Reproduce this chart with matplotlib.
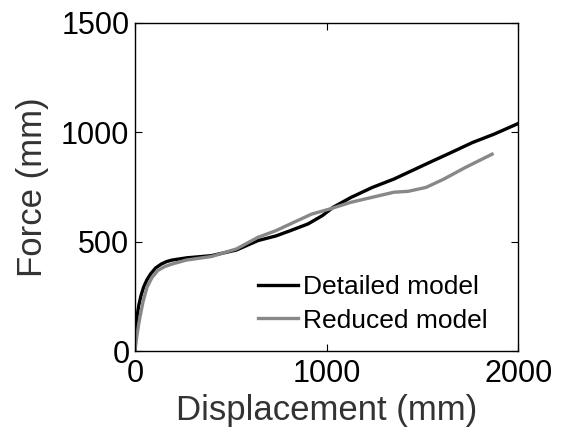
import matplotlib
matplotlib.use('Agg')
from matplotlib import pyplot as plt

# force-displacement curves
disp_detailed = [0, 5, 12, 20, 32, 45, 62, 82, 108, 138, 165, 194, 269, 399,
                 530, 642, 735, 810, 903, 978, 1034, 1127, 1239, 1351, 1444,
                 1537, 1649, 1761, 1873, 2000]
force_detailed = [0, 110, 165, 210, 255, 292, 325, 353, 380, 398, 409, 416,
                  426, 436, 462, 505, 526, 550, 581, 619, 657, 702, 748, 786,
                  824, 862, 907, 953, 991, 1040]

disp_reduced = [0, 10, 18, 26, 42, 63, 88, 119, 155, 194, 269, 399, 530, 642,
                735, 828, 922, 1015, 1127, 1239, 1351, 1425, 1519, 1612,
                1724, 1864]
force_reduced = [0, 70, 115, 155, 225, 292, 335, 368, 386, 398, 416, 432,
                 467, 520, 550, 588, 626, 649, 680, 703, 726, 730, 748, 786,
                 839, 900]

xticks = [0, 1000, 2000]
yticks = [0, 500, 1000, 1500]

plt.rcParams['font.family'] = ['Liberation Sans', 'DejaVu Sans']

fig = plt.figure(figsize=(5.61, 4.41), dpi=100)
ax = fig.add_axes([0.2406, 0.204, 0.683, 0.744])

ax.plot(disp_detailed, force_detailed, color='black', lw=2.4,
        label='Detailed model')
ax.plot(disp_reduced, force_reduced, color='#888888', lw=2.4,
        label='Reduced model')

ax.set_xlim(0, 2000)
ax.set_ylim(0, 1500)
ax.set_xticks(xticks)
ax.set_yticks(yticks)
ax.tick_params(direction='in', top=True, right=True, length=5, width=0.8,
               labelsize=22)
ax.tick_params(axis='x', pad=6)
ax.tick_params(axis='y', pad=4)
for s in ax.spines.values():
    s.set_linewidth(1.0)

ax.set_xlabel('Displacement (mm)', fontsize=25, color='#333333', labelpad=3)
ax.set_ylabel('Force (mm)', fontsize=25, color='#333333', labelpad=9)

ax.legend(loc='lower right', bbox_to_anchor=(0.968, 0.0), frameon=False,
          fontsize=19, handlelength=1.5, handletextpad=0.2,
          labelspacing=0.35, borderaxespad=0.3)

plt.savefig('out.png', dpi=100)
